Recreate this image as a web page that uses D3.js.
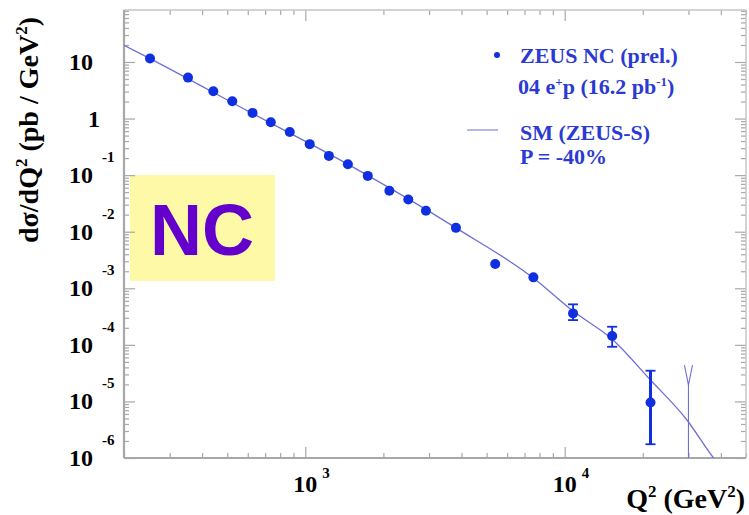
<!DOCTYPE html>
<html>
<head>
<meta charset="utf-8">
<script src="https://cdn.jsdelivr.net/npm/d3@7"></script>
<style>
  body { margin: 0; background: #fff; }
  text { font-family: "Liberation Serif", "DejaVu Serif", serif; font-weight: bold; }
</style>
</head>
<body>
<div id="display"></div>
<script>
var colourPoint = "#0f2fe0";
var colourCurve = "#6c6fd6";
var colourText = "#2b3ad2";
var colourFrame = "#a8a8a8";

// measured cross sections (ZEUS NC prel., 04 e+p)
var q2 = [252, 353, 442, 523, 626, 736, 871, 1040, 1233, 1459, 1741, 2109, 2495, 2918, 3808, 5397, 7574, 10770, 15240, 21420];
var xsec = [11.5, 5.3, 3.05, 2.03, 1.26, 0.86, 0.58, 0.353, 0.219, 0.156, 0.097, 0.0528, 0.0372, 0.0234, 0.0117, 0.00268, 0.00156, 3.6e-4, 1.43e-4, 9.6e-6];
var errLow = [null, null, null, null, null, null, null, null, null, null, null, null, null, null, null, null, null, 2.74e-4, 9.25e-5, 1.75e-6];
var errHigh = [null, null, null, null, null, null, null, null, null, null, null, null, null, null, null, null, null, 5.2e-4, 2.09e-4, 3.49e-5];

// SM (ZEUS-S) prediction, P = -40%
var smQ2 = [200, 252, 611, 1480, 3808, 7574, 10770, 15240, 21420, 29600, 37500, 41000];
var smXsec = [19.8, 11.5, 1.30, 0.150, 0.0117, 0.00152, 3.95e-4, 1.26e-4, 2.39e-5, 4.7e-6, 1.0e-6, 6.1e-7];

// kinematic limit marker
var limitQ2 = 30000;
var limitTop = 4.4e-5;
var limitFork = 1.95e-5;

var xMajor = [1000, 10000];
var xMajorExp = [3, 4];
var yMajorExp = [-6, -5, -4, -3, -2, -1, 0, 1];

var W = 749, H = 515;
var margin = {top: 10, right: 3, bottom: 57, left: 124};

var svg = d3.select("#display").append("svg")
    .attr("width", W)
    .attr("height", H);

var x = d3.scaleLog().domain([200, 50000]).range([margin.left, W - margin.right]);
var y = d3.scaleLog().domain([1e-6, 83]).range([H - margin.bottom, margin.top]);

var xMinor = [];
[100, 1000, 10000].forEach(function(dec) {
  for (var k = 2; k <= 9; k++) {
    var v = k * dec;
    if (v >= 200 && v <= 50000) xMinor.push(v);
  }
});
var yMinor = [];
yMajorExp.forEach(function(e) {
  for (var k = 2; k <= 9; k++) {
    var v = k * Math.pow(10, e);
    if (v <= 83) yMinor.push(v);
  }
});
var yMajor = yMajorExp.map(function(e) { return Math.pow(10, e); });

// NC label box
var nc = svg.append("g");
nc.append("rect")
    .attr("x", 130).attr("y", 175)
    .attr("width", 145).attr("height", 106)
    .attr("fill", "#fdf9a6");
nc.append("text")
    .attr("x", 202).attr("y", 255)
    .attr("text-anchor", "middle")
    .attr("fill", "#6400cc")
    .style("font-family", "'Liberation Sans', Arial, sans-serif")
    .style("font-size", "72px")
    .text("NC");

// axes (ticks pointing inward)
function styleAxis(g) {
  g.select(".domain").remove();
  g.selectAll(".tick line").attr("stroke", colourFrame).attr("stroke-width", 1.2);
  g.selectAll(".tick text").remove();
}
var yBot = y.range()[0], yTop = y.range()[1], xLeft = x.range()[0], xRight = x.range()[1];

[[d3.axisBottom, yBot], [d3.axisTop, yTop]].forEach(function(a) {
  svg.append("g").attr("transform", "translate(0," + a[1] + ")")
    .call(a[0](x).tickValues(xMinor).tickSize(-5)).call(styleAxis);
  svg.append("g").attr("transform", "translate(0," + a[1] + ")")
    .call(a[0](x).tickValues(xMajor).tickSize(-11)).call(styleAxis);
});
[[d3.axisLeft, xLeft], [d3.axisRight, xRight]].forEach(function(a) {
  svg.append("g").attr("transform", "translate(" + a[1] + ",0)")
    .call(a[0](y).tickValues(yMinor).tickSize(-5)).call(styleAxis);
  svg.append("g").attr("transform", "translate(" + a[1] + ",0)")
    .call(a[0](y).tickValues(yMajor).tickSize(-11)).call(styleAxis);
});

// frame
svg.append("line").attr("x1", xLeft).attr("x2", xRight).attr("y1", yTop).attr("y2", yTop)
    .attr("stroke", "#c4c4c4").attr("stroke-width", 1.5);
svg.append("line").attr("x1", xRight).attr("x2", xRight).attr("y1", yTop).attr("y2", yBot)
    .attr("stroke", "#c4c4c4").attr("stroke-width", 1.5);
svg.append("line").attr("x1", xLeft).attr("x2", xRight).attr("y1", yBot).attr("y2", yBot)
    .attr("stroke", colourFrame).attr("stroke-width", 2.2);
svg.append("line").attr("x1", xLeft).attr("x2", xLeft).attr("y1", yTop).attr("y2", yBot)
    .attr("stroke", colourFrame).attr("stroke-width", 2.2);

// y tick labels
yMajorExp.forEach(function(e) {
  var yy = y(Math.pow(10, e));
  if (e === 0) {
    svg.append("text").attr("x", 100).attr("y", yy + 8)
      .attr("text-anchor", "end").style("font-size", "24px").text("1");
    return;
  }
  svg.append("text").attr("x", 93).attr("y", yy + 8)
    .attr("text-anchor", "end").style("font-size", "24px").text("10");
  if (e !== 1) {
    svg.append("text").attr("x", 102).attr("y", yy - 13)
      .style("font-size", "15px").text(String(e));
  }
});

// x tick labels
xMajor.forEach(function(v, i) {
  var xx = x(v);
  svg.append("text").attr("x", xx).attr("y", 492)
    .attr("text-anchor", "middle").style("font-size", "24px").text("10");
  svg.append("text").attr("x", xx + 17).attr("y", 478)
    .style("font-size", "15px").text(xMajorExp[i]);
});

// axis titles
var xt = svg.append("text").attr("x", 745).attr("y", 508)
    .attr("text-anchor", "end").style("font-size", "28px");
xt.append("tspan").text("Q");
xt.append("tspan").attr("dy", -11).style("font-size", "17px").text("2");
xt.append("tspan").attr("dy", 11).text(" (GeV");
xt.append("tspan").attr("dy", -11).style("font-size", "17px").text("2");
xt.append("tspan").attr("dy", 11).text(")");

var yt = svg.append("text").attr("transform", "translate(38,130) rotate(-90)")
    .attr("text-anchor", "middle").style("font-size", "28px");
yt.append("tspan").text("d\u03c3/dQ");
yt.append("tspan").attr("dy", -11).style("font-size", "17px").text("2");
yt.append("tspan").attr("dy", 11).text(" (pb / GeV");
yt.append("tspan").attr("dy", -11).style("font-size", "17px").text("2");
yt.append("tspan").attr("dy", 11).text(")");

// plot content, clipped to the frame
svg.append("clipPath").attr("id", "clip").append("rect")
    .attr("x", xLeft).attr("y", yTop).attr("width", xRight - xLeft).attr("height", yBot - yTop);
var plot = svg.append("g").attr("clip-path", "url(#clip)");

var smData = smQ2.map(function(q, i) { return {q: q, v: smXsec[i]}; });
plot.append("path")
    .datum(smData)
    .attr("fill", "none")
    .attr("stroke", colourCurve)
    .attr("stroke-width", 1.3)
    .attr("d", d3.line()
      .x(function(d) { return x(d.q); })
      .y(function(d) { return y(d.v); })
      .curve(d3.curveMonotoneX));

// kinematic limit
var lx = x(limitQ2);
plot.append("line").attr("x1", lx).attr("x2", lx).attr("y1", y(limitFork)).attr("y2", yBot)
    .attr("stroke", colourCurve).attr("stroke-width", 1.1);
plot.append("path")
    .attr("d", "M" + (lx - 4) + "," + y(limitTop) + "L" + lx + "," + y(limitFork) + "L" + (lx + 4) + "," + y(limitTop))
    .attr("fill", "none").attr("stroke", colourCurve).attr("stroke-width", 1.1);

var pts = q2.map(function(q, i) { return {q: q, v: xsec[i], lo: errLow[i], hi: errHigh[i]}; });
var err = plot.append("g").selectAll("g")
    .data(pts.filter(function(d) { return d.lo !== null; }))
    .enter().append("g")
      .attr("stroke", colourPoint);
err.append("line")
    .attr("x1", function(d) { return x(d.q); })
    .attr("x2", function(d) { return x(d.q); })
    .attr("y1", function(d) { return y(d.lo); })
    .attr("y2", function(d) { return y(d.hi); })
    .attr("stroke-width", function(d, i) { return i === 2 ? 3 : 1.8; });
["lo", "hi"].forEach(function(k) {
  err.append("line")
      .attr("x1", function(d) { return x(d.q) - 5; })
      .attr("x2", function(d) { return x(d.q) + 5; })
      .attr("y1", function(d) { return y(d[k]); })
      .attr("y2", function(d) { return y(d[k]); })
      .attr("stroke-width", 1.8);
});

plot.append("g").selectAll("circle")
    .data(pts)
    .enter().append("circle")
      .attr("cx", function(d) { return x(d.q); })
      .attr("cy", function(d) { return y(d.v); })
      .attr("r", 5)
      .attr("fill", colourPoint);

// legend
var legend = svg.append("g").attr("fill", colourText).style("font-size", "22px");
legend.append("circle").attr("cx", 497).attr("cy", 55).attr("r", 3).attr("fill", colourPoint);
legend.append("text").attr("x", 520).attr("y", 63).text("ZEUS NC (prel.)");
var l2 = legend.append("text").attr("x", 518).attr("y", 94);
l2.append("tspan").text("04 e");
l2.append("tspan").attr("dy", -8).style("font-size", "13px").text("+");
l2.append("tspan").attr("dy", 8).text("p (16.2 pb");
l2.append("tspan").attr("dy", -8).style("font-size", "13px").text("-1");
l2.append("tspan").attr("dy", 8).text(")");
legend.append("line").attr("x1", 467).attr("x2", 498).attr("y1", 130).attr("y2", 130)
    .attr("stroke", colourCurve).attr("stroke-width", 1);
legend.append("text").attr("x", 520).attr("y", 140).text("SM (ZEUS-S)");
legend.append("text").attr("x", 520).attr("y", 164).text("P = -40%");
</script>
</body>
</html>
